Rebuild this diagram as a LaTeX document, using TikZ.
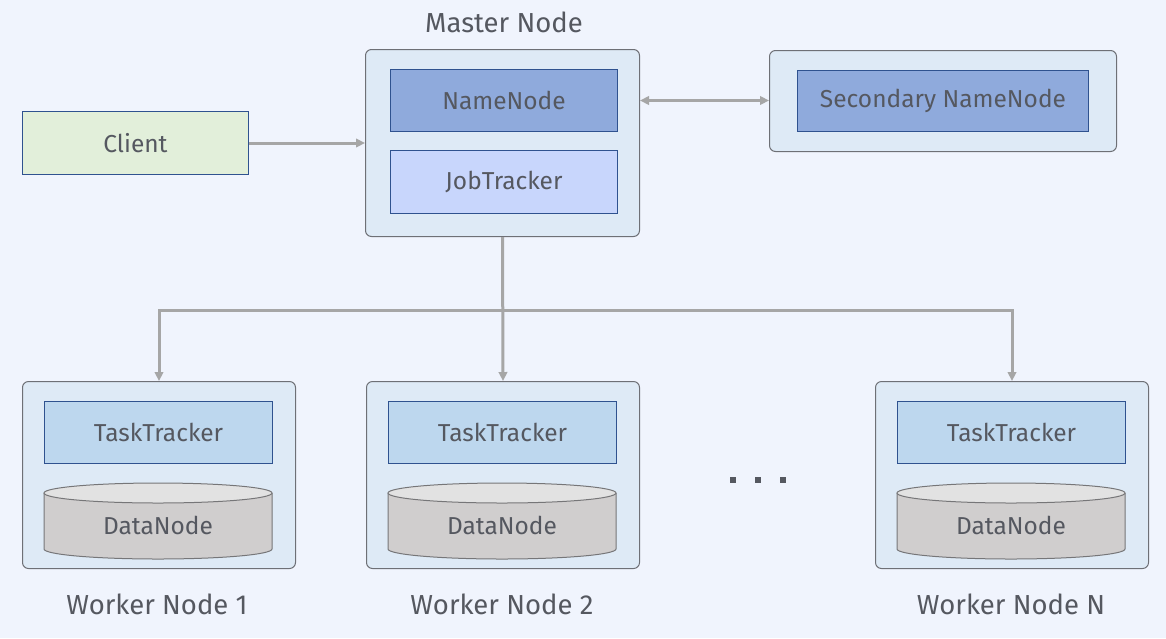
\documentclass[tikz,border=0pt]{standalone}
\usepackage{fontspec}
\setmainfont{Fira Sans}
\usetikzlibrary{arrows.meta,calc}
\definecolor{bgc}{RGB}{240,244,253}
\definecolor{contfill}{RGB}{222,234,246}
\definecolor{contdraw}{RGB}{110,112,118}
\definecolor{txt}{RGB}{85,88,96}
\definecolor{innerdraw}{RGB}{47,82,143}
\definecolor{nnfill}{RGB}{143,170,220}
\definecolor{jtfill}{RGB}{200,214,252}
\definecolor{ttfill}{RGB}{189,215,238}
\definecolor{clfill}{RGB}{226,239,218}
\definecolor{cylbody}{RGB}{208,206,206}
\definecolor{cyltop}{RGB}{226,226,226}
\definecolor{cyldraw}{RGB}{118,118,120}
\definecolor{arrc}{RGB}{166,166,166}
\newcommand{\DNcyl}[2]{% center x, name
  \fill[cylbody] (#1-114,493) -- (#1-114,549) arc[start angle=180,end angle=0,x radius=114,y radius=10] -- (#1+114,493) -- cycle;
  \draw[cyldraw,line width=1pt] (#1-114,493) -- (#1-114,549) arc[start angle=180,end angle=0,x radius=114,y radius=10] -- (#1+114,493);
  \draw[cyldraw,fill=cyltop,line width=1pt] (#1,493) ellipse[x radius=114,y radius=10];
  \node[lbl] (#2) at (#1,525) {DataNode};
}
\begin{document}
\begin{tikzpicture}[x=1pt,y=-1pt,
  container/.style={draw=contdraw,fill=contfill,line width=1pt,rounded corners=6pt,anchor=north west,inner sep=0pt},
  inner/.style={draw=innerdraw,line width=1pt,anchor=north west,inner sep=0pt,text=txt,font=\fontsize{24.5}{28}\selectfont},
  lbl/.style={text=txt,font=\fontsize{24.5}{28}\selectfont,inner sep=0pt},
  title/.style={text=txt,font=\fontsize{27.5}{32}\selectfont,inner sep=0pt},
  arr/.style={draw=arrc,line width=3pt,-{Triangle[length=9pt,width=8.5pt]}},
  dbl/.style={draw=arrc,line width=3pt,{Triangle[length=9pt,width=8.5pt]}-{Triangle[length=9pt,width=8.5pt]}},
  dot/.style={fill=txt,minimum size=6pt,inner sep=0pt}]
\fill[bgc] (0,0) rectangle (1166,638);
\useasboundingbox (0,0) rectangle (1166,638);

% Client
\node[inner,fill=clfill,minimum width=226pt,minimum height=63pt] (client) at (22,111) {};
\node[lbl] at (client.center) {Client};

% Master
\node[container,minimum width=274pt,minimum height=187pt] (master) at (365,49) {};
\node[title] (mlabel) at (504,22) {Master Node};
\node[inner,fill=nnfill,minimum width=227pt,minimum height=62pt] (nn) at (390,69) {NameNode};
\node[inner,fill=jtfill,minimum width=227pt,minimum height=63pt] (jt) at (390,150) {JobTracker};

% Secondary
\node[container,minimum width=347pt,minimum height=101pt] (sec) at (769,50) {};
\node[inner,fill=nnfill,minimum width=291pt,minimum height=61pt] (snn) at (797,70) {Secondary NameNode};

% Workers
\node[container,minimum width=273pt,minimum height=187pt] (w1) at (22,381) {};
\node[container,minimum width=273pt,minimum height=187pt] (w2) at (366,381) {};
\node[container,minimum width=273pt,minimum height=187pt] (wn) at (875,381) {};

\node[inner,fill=ttfill,minimum width=228pt,minimum height=62pt] (tt1) at (44,401) {TaskTracker};
\node[inner,fill=ttfill,minimum width=228pt,minimum height=62pt] (tt2) at (388,401) {TaskTracker};
\node[inner,fill=ttfill,minimum width=228pt,minimum height=62pt] (ttn) at (897,401) {TaskTracker};

\DNcyl{158}{dn1}
\DNcyl{502}{dn2}
\DNcyl{1011}{dnn}

\node[title] (wl1) at (157,604) {Worker Node 1};
\node[title] (wl2) at (502,604) {Worker Node 2};
\node[title] (wln) at (1011,604) {Worker Node N};

% dots
\node[dot] (d1) at (733,480) {};
\node[dot] (d2) at (758,480) {};
\node[dot] (d3) at (783,480) {};

% connectors
\draw[arr] (client.east) -- (client.east -| master.west);
\draw[dbl] (master.east |- nn.center) -- (sec.west |- nn.center);
\coordinate (bus) at ($(master.south)+(0,73)$);
\draw[arr] (master.south) -- (w2.north);
\draw[arr] (bus) -| (w1.north);
\draw[arr] (bus) -| (wn.north);
\end{tikzpicture}
\end{document}
